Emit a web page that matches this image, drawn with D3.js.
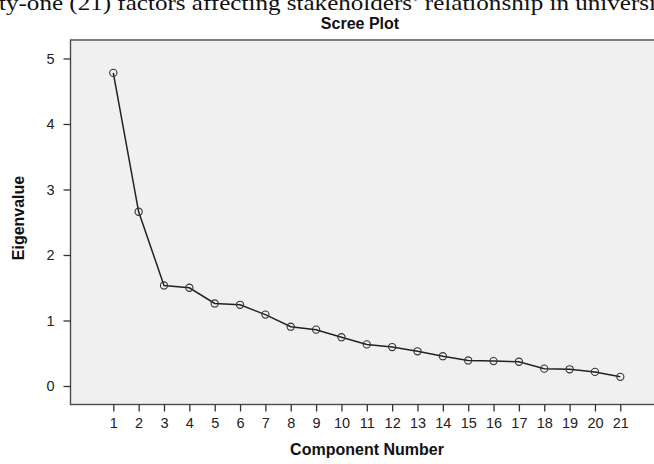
<!DOCTYPE html>
<html>
<head>
<meta charset="utf-8">
<script src="https://cdn.jsdelivr.net/npm/d3@7"></script>
<style>
  html, body { margin: 0; padding: 0; background: #fff; overflow: hidden; }
  svg { display: block; }
</style>
</head>
<body>
<div id="chart"></div>
<script>
// Scree plot data
var components = d3.range(1, 22);
var eigenvalues = [4.78, 2.66, 1.535, 1.50, 1.26, 1.24, 1.09, 0.905, 0.86, 0.745,
                   0.635, 0.595, 0.53, 0.455, 0.39, 0.38, 0.37, 0.265, 0.255, 0.215, 0.14];
var yTicks = [0, 1, 2, 3, 4, 5];
var captionText = "ty-one (21) factors affecting stakeholders\u2019 relationship in universi";

var W = 654, H = 464;
var plot = {left: 70.5, top: 40, right: 660, bottom: 404.5};

var svg = d3.select("#chart")
  .append("svg")
  .attr("width", W)
  .attr("height", H);

// caption line cut off at the top of the picture
svg.append("text")
  .attr("x", -1)
  .attr("y", 10)
  .attr("textLength", 657)
  .attr("lengthAdjust", "spacingAndGlyphs")
  .style("font-family", "'Liberation Serif', 'DejaVu Serif', serif")
  .style("font-size", "21px")
  .style("fill", "#111")
  .text(captionText);

// plot background
svg.append("rect")
  .attr("x", plot.left)
  .attr("y", plot.top)
  .attr("width", plot.right - plot.left)
  .attr("height", plot.bottom - plot.top)
  .attr("fill", "#f0f0f0")
  .attr("stroke", "#4a4a4a")
  .attr("stroke-width", 1.4);

var x = d3.scaleLinear().domain([1, 21]).range([113.3, 620.3]);
var y = d3.scaleLinear().domain([0, 5]).range([386, 58.5]);

// y axis
var yAxis = svg.append("g")
  .attr("transform", "translate(" + plot.left + ",0)")
  .call(d3.axisLeft(y).tickValues(yTicks).tickSize(7).tickPadding(9).tickFormat(d3.format("d")));
yAxis.select(".domain").remove();
yAxis.selectAll("line").attr("stroke", "#333").attr("stroke-width", 1.3);
yAxis.selectAll("text")
  .style("font-family", "'Liberation Sans', Arial, sans-serif")
  .style("font-size", "14.5px")
  .attr("fill", "#222");

// x axis
var xAxis = svg.append("g")
  .attr("transform", "translate(0," + plot.bottom + ")")
  .call(d3.axisBottom(x).tickValues(components).tickSize(7).tickPadding(6).tickFormat(d3.format("d")));
xAxis.select(".domain").remove();
xAxis.selectAll("line").attr("stroke", "#333").attr("stroke-width", 1.3);
xAxis.selectAll("text")
  .style("font-family", "'Liberation Sans', Arial, sans-serif")
  .style("font-size", "14.5px")
  .attr("fill", "#222");

// title and axis labels
svg.append("text")
  .attr("x", 360)
  .attr("y", 29)
  .attr("text-anchor", "middle")
  .style("font-family", "'Liberation Sans', Arial, sans-serif")
  .style("font-size", "16px")
  .style("font-weight", "bold")
  .attr("fill", "#111")
  .text("Scree Plot");

svg.append("text")
  .attr("x", 367)
  .attr("y", 455)
  .attr("text-anchor", "middle")
  .style("font-family", "'Liberation Sans', Arial, sans-serif")
  .style("font-size", "16px")
  .style("font-weight", "bold")
  .attr("fill", "#111")
  .text("Component Number");

svg.append("text")
  .attr("transform", "translate(24,218) rotate(-90)")
  .attr("text-anchor", "middle")
  .style("font-family", "'Liberation Sans', Arial, sans-serif")
  .style("font-size", "16px")
  .style("font-weight", "bold")
  .attr("fill", "#111")
  .text("Eigenvalue");

// line + markers
var pts = components.map(function(c, i) { return {c: c, v: eigenvalues[i]}; });
var line = d3.line()
  .x(function(d) { return x(d.c); })
  .y(function(d) { return y(d.v); });

svg.append("path")
  .attr("d", line(pts))
  .attr("fill", "none")
  .attr("stroke", "#222")
  .attr("stroke-width", 1.5);

svg.selectAll("circle.pt")
  .data(pts)
  .enter()
  .append("circle")
  .attr("class", "pt")
  .attr("cx", function(d) { return x(d.c); })
  .attr("cy", function(d) { return y(d.v); })
  .attr("r", 3.6)
  .attr("fill", "none")
  .attr("stroke", "#333")
  .attr("stroke-width", 1.1);
</script>
</body>
</html>
